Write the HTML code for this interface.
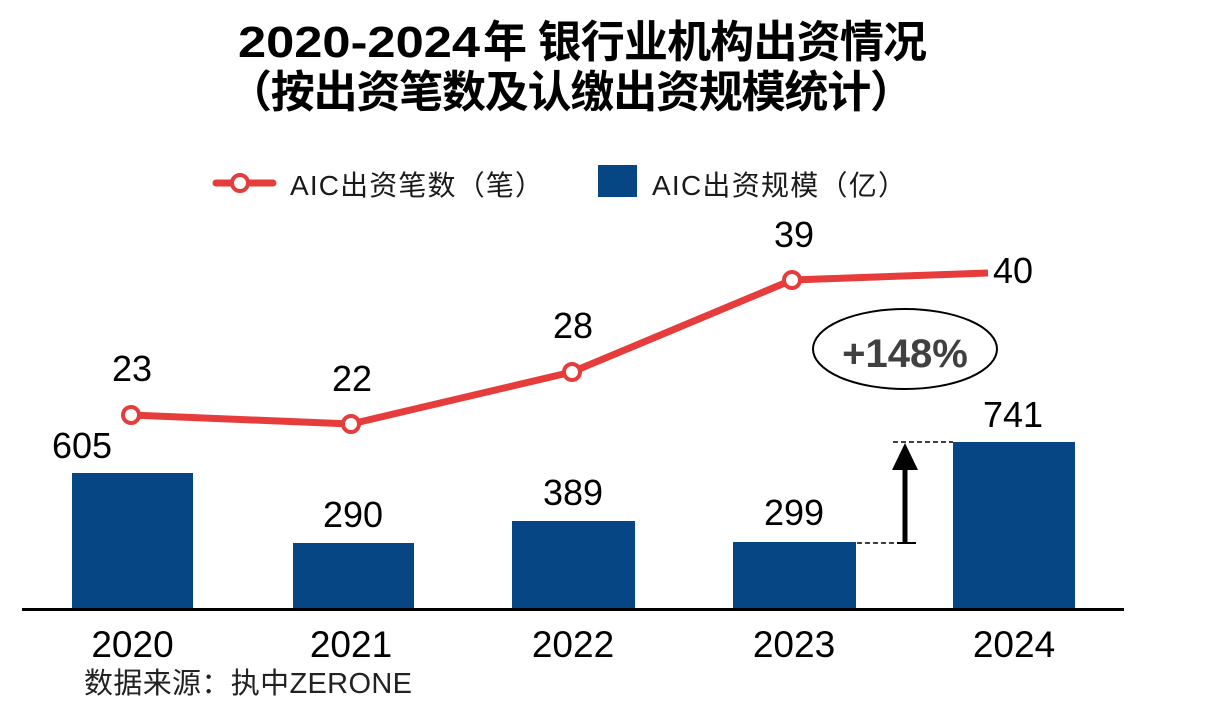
<!DOCTYPE html>
<html>
<head>
<meta charset="utf-8">
<style>
html,body{margin:0;padding:0;background:#fff;}
svg{display:block;}
text{font-family:"Liberation Sans","Noto Sans CJK SC",sans-serif;}
</style>
</head>
<body>
<svg width="1213" height="720" viewBox="0 0 1213 720" xmlns="http://www.w3.org/2000/svg">
  <rect width="1213" height="720" fill="#fff"/>
  <!-- Title -->
  <text y="57" font-size="44" font-weight="bold" fill="#000">
    <tspan x="238" textLength="242" lengthAdjust="spacingAndGlyphs">2020-2024</tspan><tspan x="483" textLength="444" lengthAdjust="spacing">年 银行业机构出资情况</tspan>
  </text>
  <text x="228" y="107" font-size="44" font-weight="bold" fill="#000" textLength="686" lengthAdjust="spacing">（按出资笔数及认缴出资规模统计）</text>

  <!-- Legend -->
  <line x1="216" y1="183" x2="273" y2="183" stroke="#e63c3c" stroke-width="7" stroke-linecap="round"/>
  <circle cx="240" cy="183" r="8" fill="#fff" stroke="#e63c3c" stroke-width="4"/>
  <text x="290" y="195" font-size="28" fill="#1a1a1a" textLength="253" lengthAdjust="spacing">AIC出资笔数（笔）</text>
  <rect x="598" y="165" width="39" height="32" fill="#074684"/>
  <text x="652" y="195" font-size="28" fill="#1a1a1a" textLength="254" lengthAdjust="spacing">AIC出资规模（亿）</text>

  <!-- Bars -->
  <g fill="#074684">
    <rect x="72" y="473" width="121" height="136"/>
    <rect x="293" y="543" width="121" height="66"/>
    <rect x="512" y="521" width="123" height="88"/>
    <rect x="733" y="542" width="123" height="67"/>
    <rect x="953" y="442" width="122" height="167"/>
  </g>

  <!-- Axis -->
  <line x1="22" y1="609.5" x2="1124" y2="609.5" stroke="#000" stroke-width="3"/>

  <!-- Bar labels -->
  <g font-size="36" fill="#000" text-anchor="middle">
    <text x="82" y="458">605</text>
    <text x="353" y="527">290</text>
    <text x="573" y="505">389</text>
    <text x="794" y="525">299</text>
    <text x="1013" y="427">741</text>
  </g>

  <!-- Dashed guides and arrow -->
  <line x1="857" y1="543" x2="898" y2="543" stroke="#000" stroke-width="1.5" stroke-dasharray="5,3"/>
  <line x1="893" y1="442" x2="953" y2="442" stroke="#000" stroke-width="1.5" stroke-dasharray="5,3"/>
  <line x1="897" y1="543" x2="916" y2="543" stroke="#000" stroke-width="2"/>
  <rect x="902.5" y="466" width="5" height="77" fill="#000"/>
  <polygon points="892,470 918,470 905,443" fill="#000"/>

  <!-- Ellipse annotation -->
  <ellipse cx="905" cy="349" rx="92" ry="40" fill="#fff" stroke="#000" stroke-width="2"/>
  <text x="905" y="367" font-size="40" font-weight="bold" fill="#404040" text-anchor="middle">+148%</text>

  <!-- Line series -->
  <polyline points="131,415 351,424 572,372 792,280 988,273" fill="none" stroke="#e63c3c" stroke-width="7" stroke-linejoin="round"/>
  <g fill="#fff" stroke="#e63c3c" stroke-width="4">
    <circle cx="131" cy="415" r="8"/>
    <circle cx="351" cy="424" r="8"/>
    <circle cx="572" cy="372" r="8"/>
    <circle cx="792" cy="280" r="8"/>
  </g>

  <!-- Line labels -->
  <g font-size="36" fill="#000" text-anchor="middle">
    <text x="132" y="381">23</text>
    <text x="352" y="391">22</text>
    <text x="573" y="338">28</text>
    <text x="794" y="247">39</text>
  </g>
  <text x="993" y="283" font-size="36" fill="#000">40</text>

  <!-- X axis labels -->
  <g font-size="37" fill="#000" text-anchor="middle">
    <text x="132.5" y="657">2020</text>
    <text x="351" y="657">2021</text>
    <text x="573" y="657">2022</text>
    <text x="794" y="657">2023</text>
    <text x="1014" y="657">2024</text>
  </g>

  <!-- Source -->
  <text x="84" y="693" font-size="29" fill="#222" textLength="328" lengthAdjust="spacing">数据来源：执中ZERONE</text>
</svg>
</body>
</html>
